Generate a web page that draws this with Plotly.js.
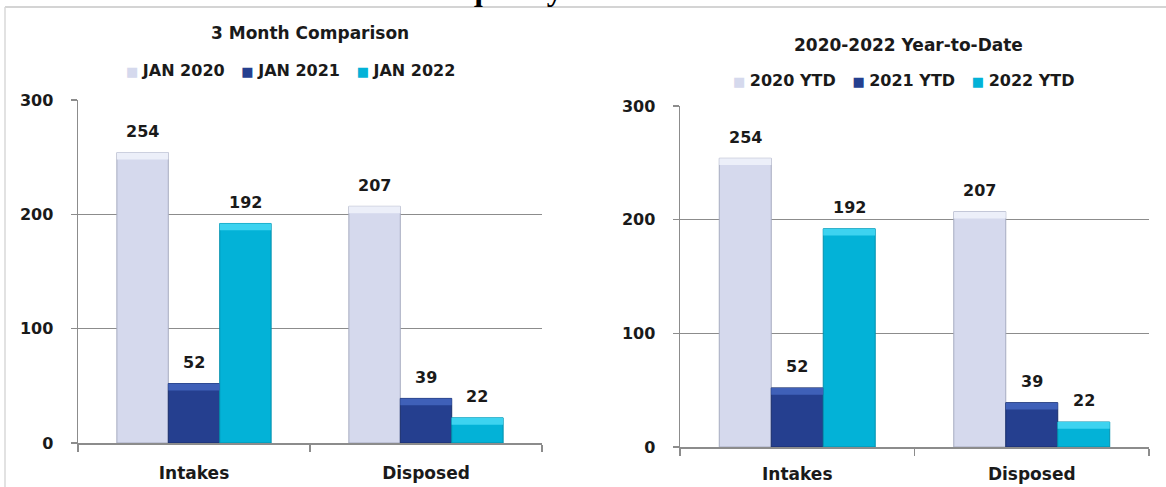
<!DOCTYPE html>
<html>
<head>
<meta charset="utf-8">
<script src="https://cdn.plot.ly/plotly-3.0.1.min.js"></script>
<style>
  html, body { margin: 0; padding: 0; background: #ffffff; }
  #chart { width: 1166px; height: 487px; }
</style>
</head>
<body>
<div id="chart"></div>
<script>
// Case counts: intakes and dispositions
const categories = ['Intakes', 'Disposed'];

const monthTitle = '3 Month Comparison';
const monthNames = ['JAN 2020', 'JAN 2021', 'JAN 2022'];
const jan2020 = [254, 207];
const jan2021 = [52, 39];
const jan2022 = [192, 22];

const ytdTitle = '2020-2022 Year-to-Date';
const ytdNames = ['2020 YTD', '2021 YTD', '2022 YTD'];
const ytd2020 = [254, 207];
const ytd2021 = [52, 39];
const ytd2022 = [192, 22];

const yTicks = [0, 100, 200, 300];
const pageHeading = 'Delinquency';

// styling
const W = 1166, H = 487;
const FONT = '"DejaVu Sans", Verdana, sans-serif';
const TEXT = '#1a1a1a';
const seriesColors = ['#d5d9ed', '#253f8f', '#03b2d7'];
const seriesEdges = ['#a6abc0', '#1a2f6c', '#0290ad'];
const seriesBevel = ['#eceff9', '#3f60b8', '#3dd3f0'];
const BEVEL = 6;          // height of the lighter cap on each bar, in data units
const gridColor = '#8c8c8c';
const BARGAP = 0.335;
const px = v => v / W;
const py = v => 1 - v / H;

function panelTraces(seriesList, xa, ya) {
  const bars = seriesList.map((vals, i) => ({
    type: 'bar',
    x: categories, y: vals,
    xaxis: xa, yaxis: ya,
    offsetgroup: String(i),
    showlegend: false,
    marker: { color: seriesColors[i], line: { color: seriesEdges[i], width: 1 } },
    hoverinfo: 'skip'
  }));
  // lighter cap at the top of every bar
  const caps = seriesList.map((vals, i) => ({
    type: 'bar',
    x: categories,
    y: vals.map(() => BEVEL),
    base: vals.map(v => v - BEVEL),
    xaxis: xa, yaxis: ya,
    offsetgroup: String(i),
    showlegend: false,
    marker: { color: seriesBevel[i], line: { width: 0 } },
    hoverinfo: 'skip'
  }));
  return bars.concat(caps);
}

// value labels above each bar, at the grouped bar centres
function valueLabels(seriesList, xa, ya) {
  const n = seriesList.length;
  const bw = (1 - BARGAP) / n;
  const out = [];
  seriesList.forEach((vals, s) => {
    vals.forEach((v, c) => {
      out.push({
        xref: xa, yref: ya,
        x: c + (s - (n - 1) / 2) * bw,
        y: v,
        text: String(v),
        showarrow: false,
        yanchor: 'middle',
        yshift: 21,
        font: { family: FONT, size: 16, color: TEXT, weight: 'bold' }
      });
    });
  });
  return out;
}

// one-line legend: a small coloured square before each series name
function legendText(names) {
  return names.map((nm, i) =>
    '<span style="color:' + seriesColors[i] + ';font-size:13px">■ </span>' + nm
  ).join('&nbsp;&nbsp;&nbsp;');
}

const monthSeries = [jan2020, jan2021, jan2022];
const ytdSeries = [ytd2020, ytd2021, ytd2022];

const data = [
  ...panelTraces(monthSeries, 'x', 'y'),
  ...panelTraces(ytdSeries, 'x2', 'y2')
];

function xAxis(dom, anchor, standoff) {
  return {
    domain: dom, anchor: anchor, type: 'category',
    tickson: 'boundaries', ticks: 'outside', ticklen: 7, tickwidth: 1.5,
    tickcolor: gridColor, showline: true, linecolor: gridColor, linewidth: 1.5,
    showgrid: false, ticklabelstandoff: standoff, fixedrange: true,
    tickfont: { family: FONT, size: 17, color: TEXT, weight: 'bold' }
  };
}
function yAxis(dom, anchor) {
  return {
    domain: dom, anchor: anchor, range: [0, 300],
    tickmode: 'array', tickvals: yTicks,
    ticks: 'outside', ticklen: 6, tickwidth: 1.5, tickcolor: gridColor,
    showline: true, linecolor: gridColor, linewidth: 1.5,
    showgrid: true, gridcolor: gridColor, gridwidth: 1.5, zeroline: false,
    ticklabelstandoff: 14, fixedrange: true,
    tickfont: { family: FONT, size: 16, color: TEXT, weight: 'bold' }
  };
}
function label(text, cx, cy, size) {
  return {
    xref: 'paper', yref: 'paper', x: px(cx), y: py(cy),
    xanchor: 'center', yanchor: 'middle', text: text, showarrow: false,
    font: { family: FONT, size: size, color: TEXT, weight: 'bold' }
  };
}

const layout = {
  width: W, height: H,
  margin: { l: 0, r: 0, t: 0, b: 0 },
  paper_bgcolor: '#ffffff', plot_bgcolor: '#ffffff',
  barmode: 'group', bargap: BARGAP, bargroupgap: 0,
  showlegend: false,
  xaxis: xAxis([px(78), px(542)], 'y', 14),
  yaxis: yAxis([py(443), py(100)], 'x'),
  xaxis2: xAxis([px(680), px(1149)], 'y2', 11),
  yaxis2: yAxis([py(447), py(106)], 'x2'),
  shapes: [
    // page rule along the top and the frame edge on the left
    { type: 'line', xref: 'paper', yref: 'paper', x0: px(5), x1: 1, y0: py(7), y1: py(7),
      line: { color: '#d4d4d4', width: 2 } },
    { type: 'line', xref: 'paper', yref: 'paper', x0: px(5), x1: px(5), y0: py(7), y1: 0,
      line: { color: '#d9d9d9', width: 1.5 } }
  ],
  annotations: [
    { xref: 'paper', yref: 'paper', x: px(477), y: 1, xanchor: 'center', yanchor: 'bottom', yshift: -9,
      text: pageHeading, showarrow: false,
      font: { family: '"Liberation Serif", serif', size: 32, color: '#000000', weight: 'bold' } },
    label(monthTitle, 310, 33, 17),
    label(ytdTitle, 908, 45, 17),
    label(legendText(monthNames), 290, 70, 16),
    label(legendText(ytdNames), 904, 81, 16),
    ...valueLabels(monthSeries, 'x', 'y'),
    ...valueLabels(ytdSeries, 'x2', 'y2')
  ]
};

Plotly.newPlot('chart', data, layout, { displayModeBar: false, staticPlot: true });
</script>
</body>
</html>
